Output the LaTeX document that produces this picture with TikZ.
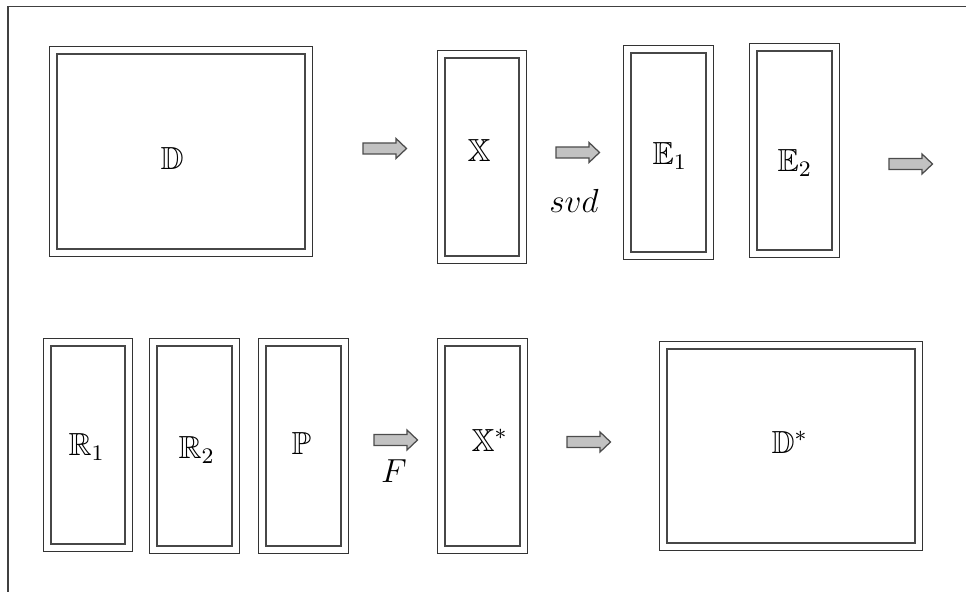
\documentclass[tikz,border=0pt]{standalone}
\usepackage{amssymb}
\begin{document}
\begin{tikzpicture}[x=0.36pt,y=-0.36pt,
  inbox/.style={draw=black!72, line width=0.6pt, inner sep=0pt, minimum width=#1},
  inbox/.default=27pt,
  outbox/.style={draw=black!80, line width=0.4pt},
  lbl/.style={inner sep=0pt, anchor=base west, font=\fontsize{11.5}{14}\selectfont},
  mlbl/.style={inner sep=0pt, anchor=base, font=\fontsize{11.5}{14}\selectfont},
  blockarrow/.pic={\draw[draw=black!70, fill=black!24, line width=0.45pt, line join=miter]
     (0,-5.5) -- (33,-5.5) -- (33,-10) -- (43.5,0) -- (33,10) -- (33,5.5) -- (0,5.5) -- cycle;}
]
\useasboundingbox (0,0) rectangle (966,592);
% frame
\draw[black!75, line width=0.45pt] (8,600) -- (8,6.5) -- (970,6.5);

% top row boxes
\node[inbox=89.28pt, minimum height=70.2pt] (D) at (181,151.5) {};
\node[inbox, minimum width=26.64pt, minimum height=71.28pt] (X) at (482,157) {};
\node[inbox, minimum height=71.64pt] (E1) at (668.5,152.5) {};
\node[inbox, minimum height=71.64pt] (E2) at (794.5,150.5) {};
% bottom row boxes
\node[inbox, minimum width=26.64pt, minimum height=71.28pt] (R1) at (88,445) {};
\node[inbox, minimum height=72pt] (R2) at (194.5,446) {};
\node[inbox, minimum height=72pt] (P) at (303.5,446) {};
\node[inbox, minimum height=72pt] (Xs) at (482.5,446) {};
\node[inbox=89.28pt, minimum height=69.84pt] (Ds) at (791,446) {};

\foreach \n in {D,X,E1,E2,R1,R2,P,Xs,Ds}
  \draw[outbox] ([shift={(-6.5,-6.5)}]\n.north west) rectangle ([shift={(6.5,6.5)}]\n.south east);

% labels
\node[lbl] (tD) at (160,170) {$\mathbb{D}$};
\node[lbl] (tX) at (467,162) {$\mathbb{X}$};
\node[lbl] (tE1) at (652,165) {$\mathbb{E}_1$};
\node[lbl] (tE2) at (777,172) {$\mathbb{E}_2$};
\node[lbl] (tR1) at (68,456) {$\mathbb{R}_1$};
\node[lbl] (tR2) at (178,459) {$\mathbb{R}_2$};
\node[lbl] (tP) at (291,455) {$\mathbb{P}$};
\node[lbl] (tXs) at (471,452) {$\mathbb{X}^{*}$};
\node[lbl] (tDs) at (771,454) {$\mathbb{D}^{*}$};

% arrows
\pic (a1) at (363,148.5) {blockarrow};
\pic (a2) at (556,152.5) {blockarrow};
\pic (a3) at (889,164) {blockarrow};
\pic (a4) at (374,440) {blockarrow};
\pic (a5) at (567,442) {blockarrow};

\node[mlbl] (svd) at (574,213) {$svd$};
\node[mlbl] (F) at (394,483) {$F$};
\end{tikzpicture}
\end{document}
